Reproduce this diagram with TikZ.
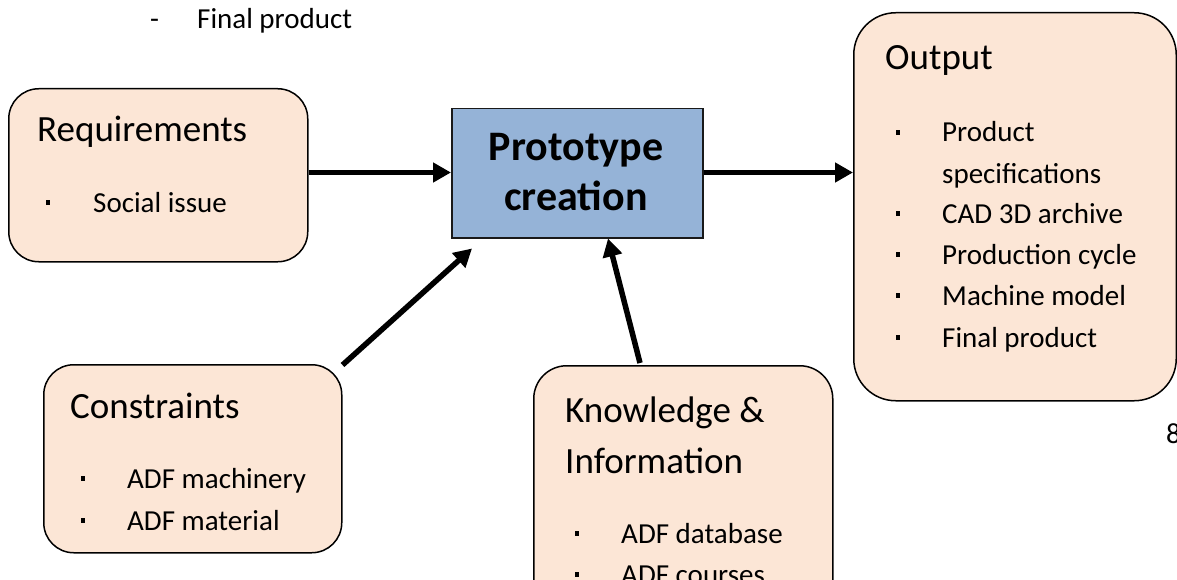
\documentclass[tikz,border=0pt]{standalone}
\usepackage{fontspec}
\setmainfont{Carlito}
\usetikzlibrary{arrows.meta,calc}

\definecolor{peach}{HTML}{FCE6D6}
\definecolor{protoblue}{HTML}{95B3D7}

\tikzset{
  x=1pt, y=-1pt,
  card/.style={draw=black, line width=1.5pt, fill=peach, rectangle,
    anchor=north west, inner sep=0pt},
  corebox/.style={draw=black!90, line width=1.5pt, fill=protoblue, rectangle,
    anchor=north west, inner sep=0pt},
  head/.style={anchor=base west, inner sep=0pt, font=\fontsize{37}{44}\selectfont},
  item/.style={anchor=base west, inner sep=0pt, font=\fontsize{29}{41}\selectfont},
  coretext/.style={anchor=base, inner sep=0pt, font=\fontsize{42}{50}\selectfont\bfseries},
  bul/.style={rectangle, fill=black, inner sep=0pt, minimum width=4.5pt, minimum height=5pt},
  flow/.style={line width=5.5pt, -{Triangle[length=18pt,width=19pt]}}
}

\begin{document}
\begin{tikzpicture}
\useasboundingbox (0,0) rectangle (1177,580);
\clip (0,0) rectangle (1177,580);

% leftover list line above the diagram
\node[item] (dash) at (150,29) {-};
\node[item] (topitem) at (197,29) {Final product};

% boxes
\node[card, rounded corners=30pt, minimum width=299pt, minimum height=173pt] (req) at (8,88) {};
\node[corebox, minimum width=251pt, minimum height=129pt] (proto) at (451,108) {};
\node[card, rounded corners=42pt, minimum width=322.5pt, minimum height=388pt] (out) at (853,12) {};
\node[card, rounded corners=30pt, minimum width=298pt, minimum height=188pt] (con) at (43,364) {};
\node[card, rounded corners=33pt, minimum width=299pt, minimum height=260pt] (kn) at (533,365) {};

% requirements
\node[head] (reqh) at (37,142) {Requirements};
\node[bul] (reqb1) at (48,202.5) {};
\node[item] (reqi1) at (93,212) {Social issue};

% prototype creation
\node[coretext] (proto1) at (576,161) {Prototype};
\node[coretext] (proto2) at (576,211) {creation};

% output
\node[head] (outh) at (885,70) {Output};
\node[bul] (outb1) at (898,132.5) {};
\node[item] (outi1) at (942,142) {Product};
\node[item] (outi1b) at (942,183) {specifications};
\node[bul] (outb2) at (898,213.5) {};
\node[item] (outi2) at (942,223) {CAD 3D archive};
\node[bul] (outb3) at (898,254.5) {};
\node[item] (outi3) at (942,264) {Production cycle};
\node[bul] (outb4) at (898,295.5) {};
\node[item] (outi4) at (942,305) {Machine model};
\node[bul] (outb5) at (898,337.5) {};
\node[item] (outi5) at (942,347) {Final product};

% constraints
\node[head] (conh) at (70,418) {Constraints};
\node[bul] (conb1) at (83,478.5) {};
\node[item] (coni1) at (127,488) {ADF machinery};
\node[bul] (conb2) at (83,520.5) {};
\node[item] (coni2) at (127,530) {ADF material};

% knowledge & information
\node[head] (knh1) at (565,422) {Knowledge \&};
\node[head] (knh2) at (565,473) {Information};
\node[bul] (knb1) at (577,533.5) {};
\node[item] (kni1) at (621,543) {ADF database};
\node[bul] (knb2) at (577,574.5) {};
\node[item] (kni2) at (621,584) {ADF courses};

% page number
\node[item] (pagenum) at (1166,443) {8};

% connectors
\coordinate (reqport) at ($(req.north east)+(0,84.5)$);
\coordinate (outport) at ($(proto.north east)+(0,64.5)$);
\coordinate (contail) at ($(con.north east)+(0,1)$);
\coordinate (contip) at ($(proto.south west)+(21,10)$);
\coordinate (kntail) at ($(kn.north west)+(107,-2)$);
\coordinate (kntip) at ($(proto.south west)+(157,0)$);

\draw[flow] (reqport) -- (reqport -| proto.west);
\draw[flow] (outport) -- (outport -| out.west);
\draw[flow] (contail) -- (contip);
\draw[flow] (kntail) -- (kntip);
\end{tikzpicture}
\end{document}
